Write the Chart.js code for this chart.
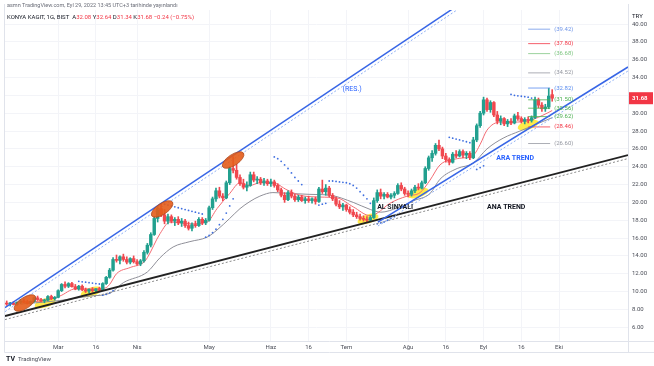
<!DOCTYPE html>
<html>
<head>
<meta charset="utf-8">
<script src="https://cdn.jsdelivr.net/npm/chart.js@4.4.0/dist/chart.umd.min.js"></script>
<style>
  html, body { margin: 0; padding: 0; background: #fff; }
</style>
</head>
<body>
<canvas id="myChart" width="654" height="366"></canvas>
<script>
// daily bars, index 0 = 8 Feb 2022 ... index 159 = 29 Sep 2022
const opens = [
  8.70, 8.60, 8.70, 8.55, 8.80, 8.95, 8.85, 8.70, 8.90, 9.30,
  9.10, 8.95, 9.05, 9.45, 9.20, 9.35, 10.10, 10.80, 10.60, 10.90,
  10.55, 10.30, 10.60, 10.20, 10.05, 10.25, 10.10, 10.30, 10.15, 10.90,
  11.60, 12.40, 13.60, 13.50, 13.90, 13.60, 13.30, 13.70, 13.35, 13.10,
  13.45, 14.40, 15.20, 16.40, 18.20, 19.30, 18.60, 17.90, 18.40, 17.90,
  18.10, 17.70, 17.90, 17.40, 17.10, 17.50, 17.40, 18.10, 17.70, 18.00,
  19.40, 20.40, 21.30, 20.70, 20.50, 22.20, 23.80, 23.60, 22.80, 22.10,
  21.70, 21.90, 23.10, 22.50, 22.60, 22.20, 22.40, 22.10, 22.30, 21.90,
  21.40, 20.80, 20.30, 21.10, 20.70, 20.30, 20.60, 20.20, 20.40, 20.20,
  20.40, 20.10, 21.50, 21.20, 21.60, 20.80, 20.40, 19.80, 19.50, 19.70,
  19.20, 18.90, 18.60, 18.40, 18.20, 18.10, 18.00, 18.30, 20.20, 21.10,
  20.70, 20.90, 20.60, 20.80, 21.00, 21.90, 21.50, 21.00, 20.90, 21.30,
  21.70, 21.60, 22.20, 23.80, 25.00, 25.50, 26.40, 26.00, 25.20, 24.80,
  24.50, 25.40, 25.20, 25.70, 25.30, 25.50, 25.00, 27.00, 28.60, 30.00,
  31.50, 30.40, 31.20, 29.80, 29.10, 29.40, 28.80, 29.10, 28.90, 29.70,
  29.40, 29.10, 29.30, 29.20, 29.50, 31.50, 30.90, 30.50, 30.70, 32.08
];
const highs = [
  8.95, 8.80, 8.90, 8.85, 9.10, 9.20, 9.05, 8.95, 9.40, 9.50,
  9.25, 9.15, 9.55, 9.60, 9.45, 10.20, 10.90, 11.10, 11.00, 11.05,
  10.80, 10.70, 10.75, 10.40, 10.30, 10.45, 10.35, 10.50, 11.00, 11.70,
  12.60, 13.80, 14.10, 14.00, 14.20, 13.90, 13.80, 14.00, 13.60, 13.60,
  14.60, 15.40, 16.60, 18.40, 19.60, 19.80, 19.20, 18.70, 18.60, 18.30,
  18.40, 18.20, 18.10, 17.80, 17.70, 17.90, 18.30, 18.30, 18.20, 19.60,
  20.60, 21.60, 21.70, 21.00, 22.40, 24.00, 25.10, 24.30, 23.10, 22.60,
  22.30, 23.40, 23.40, 22.90, 22.80, 22.70, 22.60, 22.60, 22.50, 22.10,
  21.60, 21.10, 21.30, 21.40, 20.90, 20.80, 20.80, 20.60, 20.70, 20.50,
  20.60, 21.70, 22.50, 22.00, 21.80, 21.00, 20.60, 20.20, 19.90, 19.80,
  19.50, 19.20, 18.90, 18.70, 18.50, 18.40, 18.50, 20.50, 21.40, 21.50,
  21.10, 21.10, 21.00, 21.20, 22.10, 22.20, 21.70, 21.30, 21.50, 21.90,
  22.10, 22.40, 24.00, 25.20, 25.80, 26.60, 27.00, 26.20, 25.50, 25.00,
  25.60, 25.80, 25.90, 25.90, 25.70, 25.70, 27.30, 28.80, 30.20, 31.80,
  31.70, 31.40, 31.30, 30.20, 29.70, 29.50, 29.30, 29.40, 29.90, 30.10,
  29.60, 29.50, 29.60, 29.70, 31.80, 31.70, 31.20, 31.00, 32.80, 32.64
];
const lows = [
  8.45, 8.40, 8.50, 8.45, 8.65, 8.75, 8.60, 8.55, 8.80, 9.00,
  8.85, 8.75, 8.95, 9.10, 9.05, 9.30, 10.00, 10.40, 10.45, 10.50,
  10.20, 10.15, 10.10, 9.90, 9.85, 9.95, 9.90, 10.05, 10.10, 10.80,
  11.50, 12.30, 13.30, 13.10, 13.40, 13.10, 13.10, 13.20, 12.95, 12.90,
  13.30, 14.20, 15.00, 16.30, 17.80, 18.40, 17.60, 17.60, 17.70, 17.40,
  17.50, 17.30, 17.20, 16.90, 16.80, 17.20, 17.30, 17.50, 17.50, 17.90,
  19.20, 20.10, 20.50, 20.20, 20.40, 22.00, 23.30, 22.60, 21.90, 21.50,
  21.30, 21.80, 22.30, 22.10, 22.00, 21.90, 21.90, 21.80, 21.70, 21.20,
  20.60, 20.00, 20.20, 20.50, 20.10, 20.10, 20.10, 19.90, 20.00, 19.90,
  19.80, 20.00, 21.00, 20.80, 20.60, 20.20, 19.60, 19.30, 19.10, 19.00,
  18.70, 18.40, 18.20, 18.00, 17.90, 17.80, 17.90, 18.20, 20.00, 20.40,
  20.40, 20.50, 20.40, 20.50, 20.90, 21.30, 20.80, 20.60, 20.70, 21.10,
  21.40, 21.50, 22.10, 23.60, 24.60, 25.30, 25.80, 24.90, 24.50, 24.20,
  24.40, 25.00, 25.10, 25.00, 24.90, 24.80, 24.90, 26.80, 28.40, 29.80,
  30.20, 30.10, 29.60, 28.80, 28.70, 28.60, 28.50, 28.70, 28.80, 29.20,
  28.90, 28.80, 28.90, 29.00, 29.40, 30.60, 30.20, 30.20, 30.50, 31.34
];
const closes = [
  8.60, 8.70, 8.55, 8.80, 8.95, 8.85, 8.70, 8.90, 9.30, 9.10,
  8.95, 9.05, 9.45, 9.20, 9.35, 10.10, 10.80, 10.60, 10.90, 10.55,
  10.30, 10.60, 10.20, 10.05, 10.25, 10.10, 10.30, 10.15, 10.90, 11.60,
  12.40, 13.60, 13.50, 13.90, 13.60, 13.30, 13.70, 13.35, 13.10, 13.45,
  14.40, 15.20, 16.40, 18.20, 19.30, 18.60, 17.90, 18.40, 17.90, 18.10,
  17.70, 17.90, 17.40, 17.10, 17.50, 17.40, 18.10, 17.70, 18.00, 19.40,
  20.40, 21.30, 20.70, 20.50, 22.20, 23.80, 23.60, 22.80, 22.10, 21.70,
  21.90, 23.10, 22.50, 22.60, 22.20, 22.40, 22.10, 22.30, 21.90, 21.40,
  20.80, 20.30, 21.10, 20.70, 20.30, 20.60, 20.20, 20.40, 20.20, 20.40,
  20.10, 21.50, 21.20, 21.60, 20.80, 20.40, 19.80, 19.50, 19.70, 19.20,
  18.90, 18.60, 18.40, 18.20, 18.10, 18.00, 18.30, 20.20, 21.10, 20.70,
  20.90, 20.60, 20.80, 21.00, 21.90, 21.50, 21.00, 20.90, 21.30, 21.70,
  21.60, 22.20, 23.80, 25.00, 25.50, 26.40, 26.00, 25.20, 24.80, 24.50,
  25.40, 25.20, 25.70, 25.30, 25.50, 25.00, 27.00, 28.60, 30.00, 31.50,
  30.40, 31.20, 29.80, 29.10, 29.40, 28.80, 29.10, 28.90, 29.70, 29.40,
  29.10, 29.30, 29.20, 29.50, 31.50, 30.90, 30.50, 30.70, 31.92, 31.68
];

// moving averages (bar index, price)
const maFastX = [4, 11, 15.5, 20, 24.3, 28.7, 30, 32, 36, 40, 41, 44.7, 47.6, 53.4, 58.4, 61.3, 65, 68, 70.9, 73.8, 77.6, 81.7, 85.5, 91.3, 96.3, 101, 106, 108, 111.7, 116.7, 120.5, 123.4, 126.3, 131.3, 136, 138, 140, 143.8, 147.6, 152.6, 157.5, 159];
const maFast  = [8.8, 9.0, 9.5, 10.3, 10.3, 10.4, 10.8, 12.0, 12.7, 13.3, 13.8, 16.5, 17.8, 17.6, 17.8, 19.3, 21.0, 22.2, 21.9, 22.2, 22.2, 21.4, 20.8, 20.6, 20.5, 19.5, 18.5, 18.8, 19.9, 20.7, 21.1, 22.5, 24.2, 24.9, 25.3, 26.5, 28.1, 29.0, 29.0, 29.2, 30.0, 30.3];
const maSlowX = [4, 15.5, 24.3, 30, 34, 41, 44.7, 48.5, 53.4, 58.4, 61.3, 65, 68, 70.9, 73.8, 77.6, 82.6, 88.4, 94.3, 101, 106, 109, 114, 118.7, 123.4, 126.3, 131.3, 136, 140, 144.7, 149.6, 154.6, 159];
const maSlow  = [8.6, 9.0, 9.5, 9.8, 11.0, 12.2, 13.8, 15.0, 15.6, 16.1, 16.9, 18.2, 19.3, 20.1, 20.7, 21.1, 21.0, 20.9, 20.8, 20.0, 19.2, 18.9, 19.4, 20.2, 21.0, 22.6, 23.8, 24.4, 26.0, 27.2, 28.0, 28.8, 29.5];

// parabolic SAR dots
const sarX = [21, 22, 23, 24, 25, 26, 27, 28, 29, 30, 31,
  46, 47, 48, 49, 50, 51, 52, 53, 54, 55, 56, 57,
  58, 59, 60, 61, 62, 63, 64, 65, 66,
  78, 79, 80, 81, 82, 83, 84, 85, 86,
  91, 92, 93,
  94, 95, 96, 97, 98, 99, 100, 101, 102, 103, 104, 105, 106,
  108, 109, 110, 111, 112, 113,
  129, 130, 131, 132, 133, 134, 135,
  137, 138, 139,
  147, 148, 149, 150, 151, 152, 153];
const sarY = [11.15, 11.1, 11.05, 11.0, 10.95, 10.9, 10.85, 9.6, 9.7, 9.85, 10.1,
  19.8, 19.7, 19.6, 19.5, 19.4, 19.3, 19.2, 19.1, 19.0, 18.9, 18.8, 18.7,
  16.1, 16.3, 16.6, 17.0, 17.5, 18.1, 18.8, 19.6, 20.4,
  25.1, 24.9, 24.6, 24.2, 23.8, 23.3, 22.8, 22.4, 22.0,
  19.7, 19.8, 19.9,
  22.4, 22.4, 22.35, 22.3, 22.25, 22.2, 22.1, 21.9, 21.6, 21.2, 20.8, 20.4, 19.9,
  17.6, 17.7, 17.8, 18.0, 18.2, 18.4,
  27.3, 27.2, 27.1, 27.0, 26.9, 26.8, 26.7,
  23.7, 23.9, 24.1,
  32.1, 32.0, 31.95, 31.9, 31.85, 31.8, 31.7];

// drawn trend lines: [startIdx, startPrice, endIdx, endPrice]
const resLine = [-0.5, 8.2, 131, 41.96];
const araLine = [108.2, 17.8, 181.1, 35.18];
const anaLine = [-0.5, 7.26, 181.1, 25.31];

// fibonacci-style levels on the right
const fibLevels = [39.42, 37.80, 36.68, 34.52, 32.82, 31.50, 30.56, 29.62, 28.46, 26.60];
const fibColors = ['#6f95e8', '#f23645', '#81c784', '#9598a1', '#5b8def', '#4caf50', '#4caf50', '#4caf50', '#f23645', '#9598a1'];
const fibFrom = 152, fibTo = 158.4;

// highlight marks (bar index, price)
const orangeX = [5.3, 45.3, 66];
const orangeY = [8.72, 19.26, 24.75];
const yellowX = [11.2, 24.6, 105.3, 119.9, 152];
const yellowY = [8.72, 9.96, 18.14, 21.05, 28.68];

const noteText = ['(RES.)', 'ARA TREND', 'ANA TREND', 'AL SİNYALİ'];
const noteX = [100.7, 148.2, 145.6, 113.2];
const noteY = [32.7, 24.98, 19.5, 19.5];
const noteColor = ['#2962ff', '#2962ff', '#131722', '#131722'];

const xTickIdx = [15, 26, 38, 59, 77, 88, 99, 117, 128, 139, 150, 161];
const xTickLabels = ['Mar', '16', 'Nis', 'May', 'Haz', '16', 'Tem', 'Ağu', '16', 'Eyl', '16', 'Eki'];
const yTickVals = [6, 8, 10, 12, 14, 16, 18, 20, 22, 24, 26, 28, 30, 32, 34, 36, 38, 40];

const UP = '#22a08f', DOWN = '#f0484f';
const FONT = 'Roboto, "Liberation Sans", sans-serif';

const bodies = opens.map((o, i) => ({ x: i, y: [o, closes[i]] }));
const wicks = opens.map((o, i) => ({ x: i, y: [lows[i], highs[i]] }));
const candleColors = opens.map((o, i) => closes[i] >= o ? UP : DOWN);

const seg = (l) => [{ x: l[0], y: l[1] }, { x: l[2], y: l[3] }];
const shifted = (l, d) => [{ x: l[0], y: l[1] - d }, { x: l[2], y: l[3] - d }];
const lineDs = (data, color, width, dash, order) => ({
  type: 'line', data, borderColor: color, borderWidth: width, borderDash: dash || [],
  pointRadius: 0, fill: false, order: order
});

const datasets = [
  { type: 'bar', data: wicks, backgroundColor: candleColors, barThickness: 1, grouped: false, order: 3 },
  { type: 'bar', data: bodies, backgroundColor: candleColors, barThickness: 2.8, minBarLength: 1, grouped: false, order: 3 },
  Object.assign(lineDs(maFastX.map((x, i) => ({ x, y: maFast[i] })), '#f36b73', 1, null, 4), { cubicInterpolationMode: 'monotone' }),
  Object.assign(lineDs(maSlowX.map((x, i) => ({ x, y: maSlow[i] })), '#8f8f98', 1, null, 4), { cubicInterpolationMode: 'monotone' }),
  { type: 'line', data: sarX.map((x, i) => ({ x, y: sarY[i] })), showLine: false, pointRadius: 0.9,
    pointBackgroundColor: '#3f6fe0', pointBorderWidth: 0, order: 2 },
  lineDs(shifted(resLine, 0.45), '#8fb0f5', 1, [2, 2], 1),
  lineDs(seg(resLine), '#3866e6', 1.5, null, 1),
  lineDs(shifted(araLine, 0.45), '#8fb0f5', 1, [2, 2], 1),
  lineDs(seg(araLine), '#3866e6', 1.5, null, 1),
  lineDs(shifted(anaLine, 0.4), '#8a8a8a', 1, [2, 2], 1),
  lineDs(seg(anaLine), '#222222', 1.8, null, 1)
];
fibLevels.forEach((v, k) => {
  datasets.push(lineDs([{ x: fibFrom, y: v }, { x: fibTo, y: v }], fibColors[k], 0.8, null, 1));
});

const ellipse = (ctx, cx, cy, rx, ry, rot) => {
  ctx.beginPath();
  ctx.ellipse(cx, cy, rx, ry, rot, 0, Math.PI * 2);
};

const decor = {
  id: 'decor',
  beforeDatasetsDraw(chart) {
    const { ctx, scales: { x, y }, chartArea: a } = chart;
    ctx.save();
    ctx.beginPath(); ctx.rect(a.left, a.top, a.right - a.left, a.bottom - a.top); ctx.clip();
    ctx.fillStyle = 'rgba(255, 232, 40, 0.85)';
    yellowX.forEach((v, k) => {
      ellipse(ctx, x.getPixelForValue(v), y.getPixelForValue(yellowY[k]), 11, 4.5, -0.3);
      ctx.fill();
    });
    ctx.restore();
  },
  afterDatasetsDraw(chart) {
    const { ctx, scales: { x, y }, chartArea: a } = chart;
    ctx.save();
    ctx.beginPath(); ctx.rect(a.left, a.top, a.right - a.left, a.bottom - a.top); ctx.clip();
    orangeX.forEach((v, k) => {
      ellipse(ctx, x.getPixelForValue(v), y.getPixelForValue(orangeY[k]), 12.5, 5.5, -0.59);
      ctx.fillStyle = 'rgba(228, 92, 26, 0.9)';
      ctx.fill();
      ctx.strokeStyle = '#a9461c'; ctx.lineWidth = 0.7; ctx.stroke();
    });
    ctx.textAlign = 'center'; ctx.textBaseline = 'middle';
    noteText.forEach((t, k) => {
      ctx.font = (k === 0 ? '' : 'bold ') + '7px ' + FONT;
      ctx.fillStyle = noteColor[k];
      ctx.fillText(t, x.getPixelForValue(noteX[k]), y.getPixelForValue(noteY[k]));
    });
    ctx.restore();

    ctx.save();
    ctx.font = '6px ' + FONT; ctx.textBaseline = 'middle'; ctx.textAlign = 'left';
    fibLevels.forEach((v, k) => {
      ctx.fillStyle = fibColors[k];
      ctx.fillText('(' + v.toFixed(2) + ')', x.getPixelForValue(fibTo) + 4, y.getPixelForValue(v));
    });
    ctx.restore();
  },
  afterDraw(chart) {
    const { ctx, scales: { y }, chartArea: a } = chart;
    ctx.save();
    // frame
    ctx.strokeStyle = '#e0e3eb'; ctx.lineWidth = 1;
    ctx.beginPath();
    ctx.moveTo(4.5, 4); ctx.lineTo(4.5, 352.5); ctx.lineTo(654, 352.5);
    ctx.moveTo(4.5, a.bottom + 0.5); ctx.lineTo(654, a.bottom + 0.5);
    ctx.moveTo(a.right + 0.5, 4); ctx.lineTo(a.right + 0.5, 352.5);
    ctx.stroke();

    // header
    ctx.textBaseline = 'middle'; ctx.textAlign = 'left';
    ctx.font = '5.5px ' + FONT; ctx.fillStyle = '#6a6d78';
    ctx.fillText('asmn TradingView.com, Eyl 29, 2022 13:45 UTC+3 tarihinde yayınlandı', 7, 5.5);
    const parts = [['KONYA KAGIT, 1G, BIST  ', '#131722'], ['A', '#131722'], ['32.08 ', '#f23645'],
      ['Y', '#131722'], ['32.64 ', '#f23645'], ['D', '#131722'], ['31.34 ', '#f23645'],
      ['K', '#131722'], ['31.68 ', '#f23645'], ['−0.24 (−0.75%)', '#f23645']];
    let px = 7;
    ctx.font = '6px ' + FONT;
    parts.forEach(([t, c]) => { ctx.fillStyle = c; ctx.fillText(t, px, 17); px += ctx.measureText(t).width; });

    // axis currency
    ctx.fillStyle = '#131722'; ctx.font = '6px ' + FONT;
    ctx.fillText('TRY', a.right + 4, 16);

    // last price tag
    const last = closes[closes.length - 1];
    const ly = y.getPixelForValue(last);
    ctx.fillStyle = '#f23645';
    ctx.fillRect(a.right + 1, ly - 6, 24, 12);
    ctx.fillStyle = '#ffffff'; ctx.font = 'bold 6px ' + FONT;
    ctx.fillText(last.toFixed(2), a.right + 4, ly);

    // logo
    ctx.fillStyle = '#131722'; ctx.font = 'bold 7px ' + FONT;
    ctx.fillText('TV', 6, 359.5);
    ctx.font = '6px ' + FONT; ctx.fillStyle = '#4a4d57';
    ctx.fillText('TradingView', 18, 359.5);
    ctx.restore();
  }
};

new Chart(document.getElementById('myChart'), {
  type: 'bar',
  data: { datasets },
  options: {
    responsive: false,
    animation: false,
    devicePixelRatio: 1,
    layout: { padding: { left: 5, top: 10, right: 0, bottom: 13 } },
    plugins: { legend: { display: false }, tooltip: { enabled: false } },
    scales: {
      x: {
        type: 'linear', min: -0.5, max: 181.1, offset: false,
        grid: { color: '#f3f4f8', drawTicks: false, offset: false },
        border: { display: false },
        afterBuildTicks: (s) => { s.ticks = xTickIdx.map(v => ({ value: v })); },
        afterFit: (s) => { s.height = 12; },
        ticks: {
          autoSkip: false, maxRotation: 0, padding: 3,
          color: '#4a4d57', font: { size: 6, family: FONT },
          callback: (v, i) => xTickLabels[i]
        }
      },
      y: {
        type: 'linear', position: 'right', min: 4.46, max: 41.57,
        grid: { color: '#f3f4f8', drawTicks: false },
        border: { display: false },
        afterBuildTicks: (s) => { s.ticks = yTickVals.map(v => ({ value: v })); },
        afterFit: (s) => { s.width = 26; },
        ticks: {
          padding: 4, color: '#4a4d57', font: { size: 6, family: FONT },
          callback: (v) => Number(v).toFixed(2)
        }
      }
    }
  },
  plugins: [decor]
});
</script>
</body>
</html>
